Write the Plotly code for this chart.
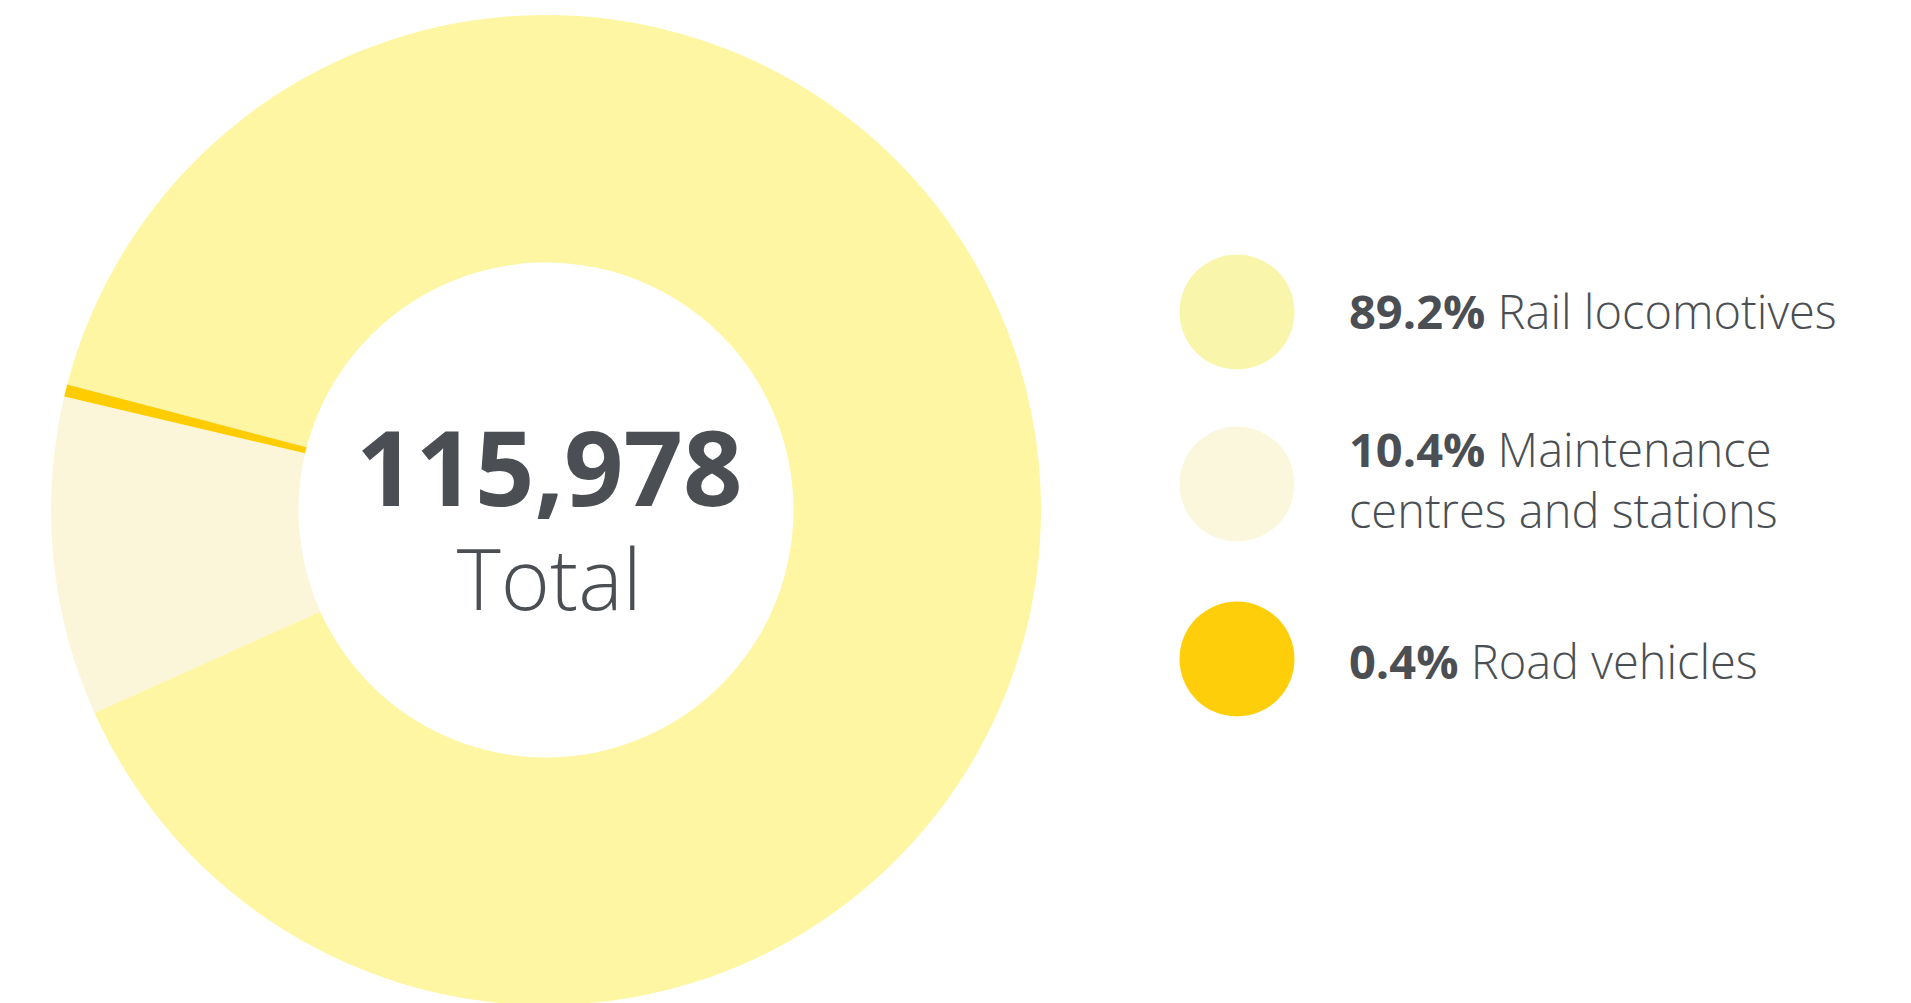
import plotly.graph_objects as go

# ---- data ----
categories = ["Rail locomotives", "Maintenance centres and stations", "Road vehicles"]
legend_labels = ["Rail locomotives", "Maintenance<br>centres and stations", "Road vehicles"]
shares = [89.2, 10.4, 0.4]
slice_colors = ["#FFF6A3", "#FBF6D9", "#FFCC00"]
legend_colors = ["#F9F5AA", "#FAF7DC", "#FFCE0A"]
total_value = "115,978"
total_label = "Total"

W, H = 1911, 1003
OFF = 8  # page body margin offset
TEXT = "#4B4F54"
FONT = "Open Sans"

fig = go.Figure()

cx, cy, R = 546 - OFF, 510 - OFF, 495
fig.add_trace(go.Pie(
    labels=categories,
    values=shares,
    sort=False,
    direction="clockwise",
    rotation=-75.3,
    hole=0.5,
    marker=dict(colors=slice_colors, line=dict(width=0)),
    textinfo="none",
    showlegend=False,
    domain=dict(x=[(cx - R) / W, (cx + R) / W], y=[1 - (cy + R) / H, 1 - (cy - R) / H]),
))

# legend markers on a hidden pixel-scaled axis
legend_y = [312 - OFF, 484 - OFF, 659 - OFF]
fig.add_trace(go.Scatter(
    x=[1237 - OFF] * len(categories),
    y=legend_y,
    mode="markers",
    marker=dict(size=115, color=legend_colors, line=dict(width=0)),
    hoverinfo="skip",
    showlegend=False,
    xaxis="x", yaxis="y",
))

annotations = [
    dict(text=(f"<span style='font-size:104px'><b>{total_value}</b></span><br>"
               f"<span style='font-size:84px'>{total_label}</span>"),
         x=(549 - OFF) / W, y=1 - (515 - OFF) / H, xref="paper", yref="paper",
         xanchor="center", yanchor="middle", align="center", showarrow=False,
         font=dict(family=FONT, size=80, color=TEXT, weight=300)),
]
text_y = [311, 479, 661]
for s, lab, ty in zip(shares, legend_labels, text_y):
    annotations.append(dict(
        text=f"<b>{s}%</b> {lab}", x=(1347 - OFF) / W, y=1 - (ty - OFF) / H, xref="paper", yref="paper",
        xanchor="left", yanchor="middle", align="left", showarrow=False,
        font=dict(family=FONT, size=47, color=TEXT, weight=300)))

fig.update_layout(
    width=W, height=H,
    margin=dict(l=0, r=0, t=0, b=0),
    paper_bgcolor="white", plot_bgcolor="rgba(0,0,0,0)",
    xaxis=dict(range=[0, W], visible=False, fixedrange=True),
    yaxis=dict(range=[H, 0], visible=False, fixedrange=True),
    annotations=annotations,
)

fig.write_html("out.html")
